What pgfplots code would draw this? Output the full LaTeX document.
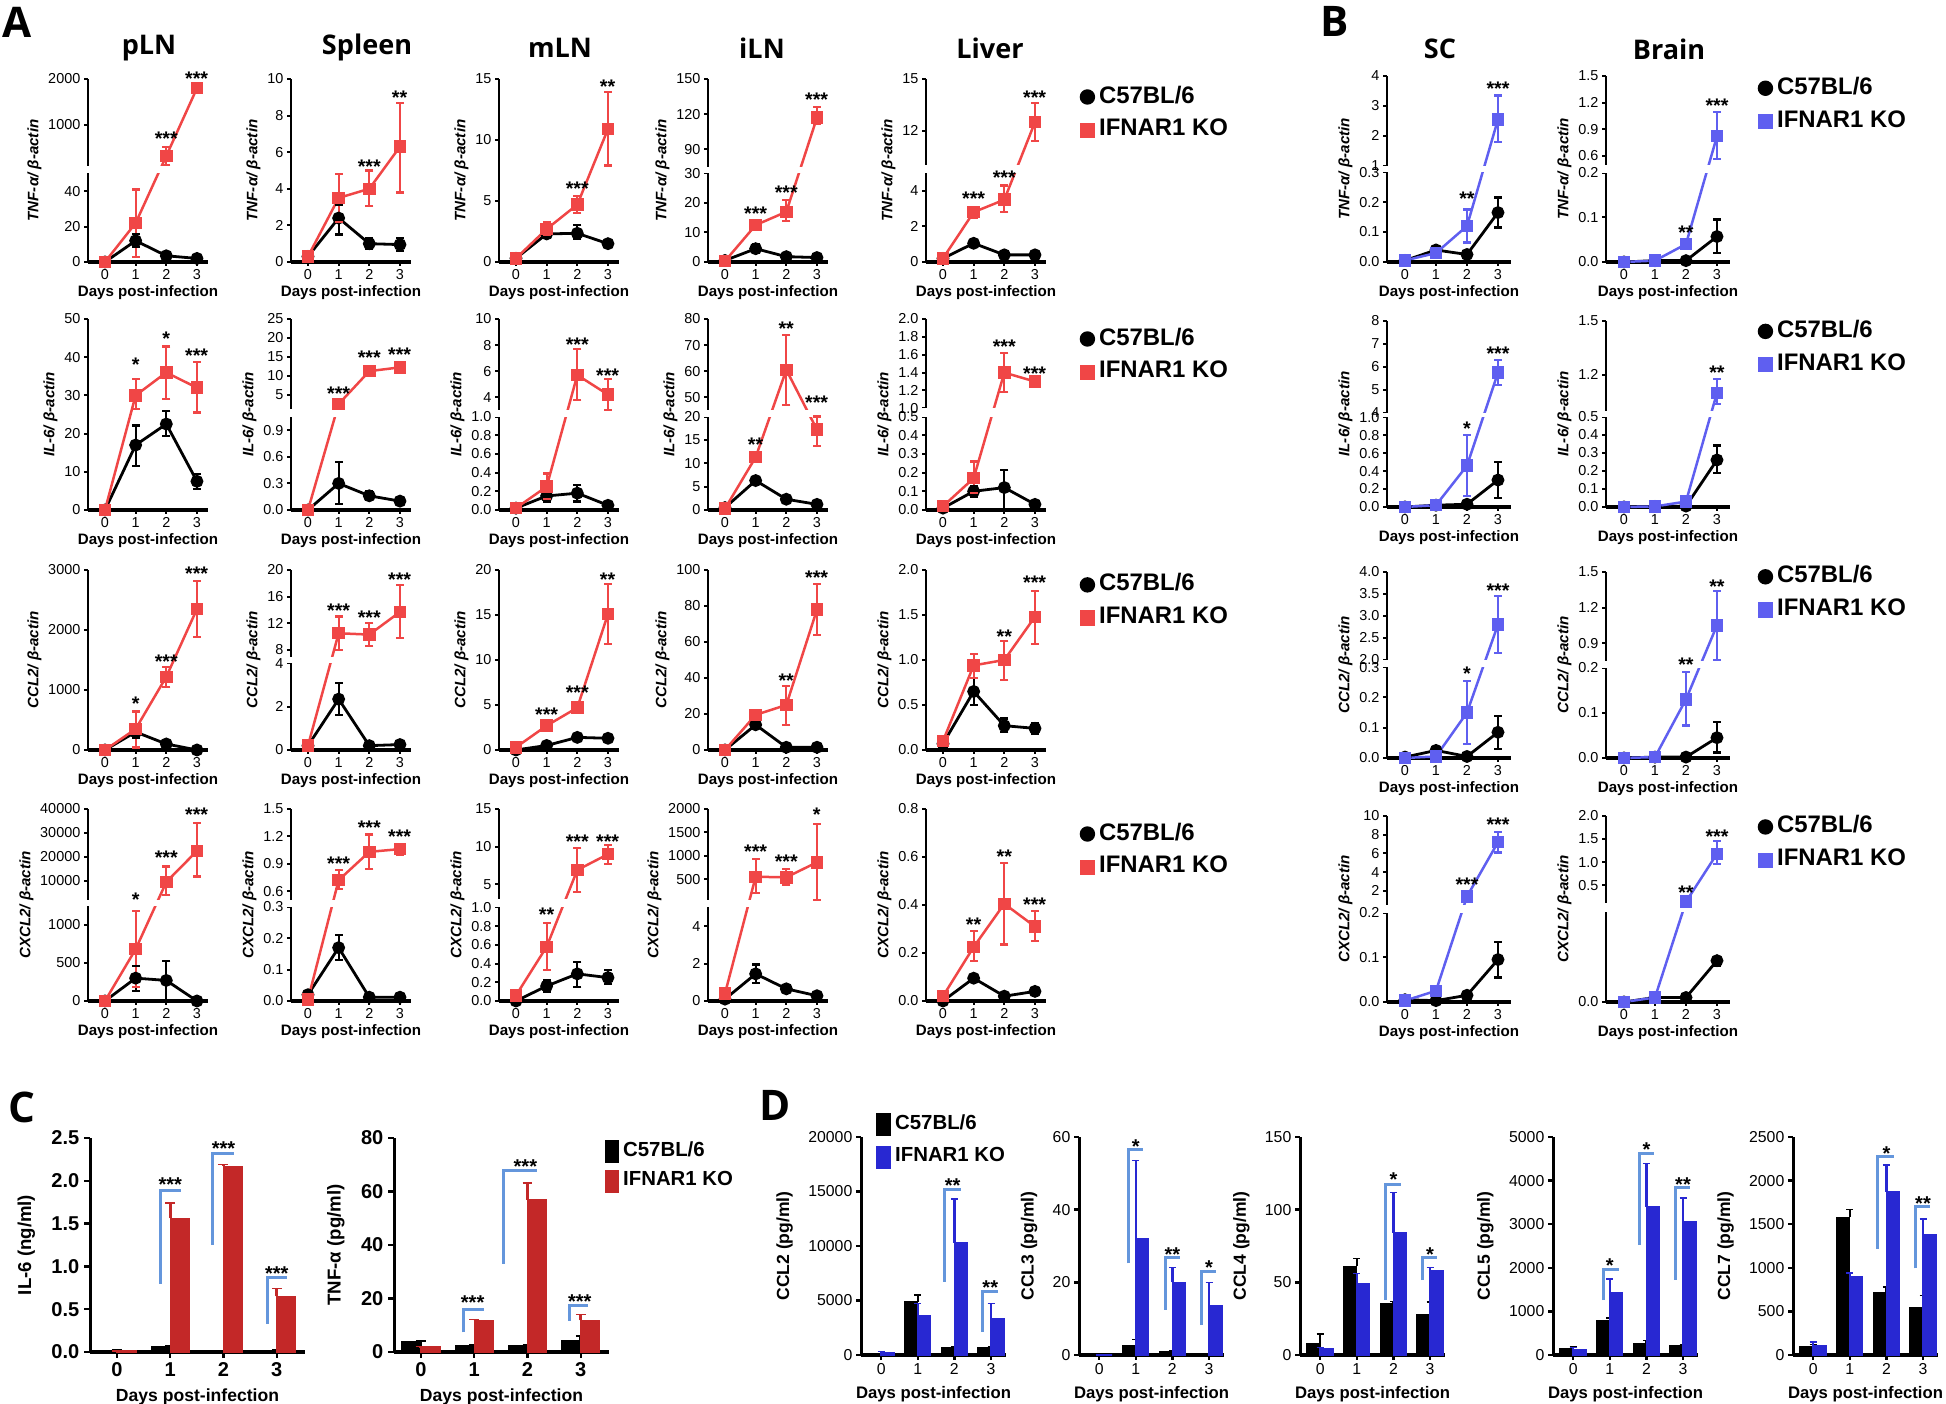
\documentclass[border=0pt]{standalone}
\usepackage{pgfplots}
\pgfplotsset{compat=1.18}
\usepackage{fontspec}
\setmainfont{Liberation Sans}
\newfontfamily\ttlfont{Open Sans}
\definecolor{redc}{RGB}{240,70,70}
\definecolor{bluec}{RGB}{95,95,240}
\definecolor{cred}{RGB}{195,40,40}
\definecolor{dblue}{RGB}{40,40,210}
\definecolor{brc}{RGB}{100,150,220}
\makeatletter
\newcommand\cvt[1]{\pgfutil@in@{Y}{#1}\ifpgfutil@in@\pgfmathfloattosci{#1}\edef\cvv{\pgfmathresult}\else\edef\cvv{#1}\fi}
\makeatother
\newcommand\ftick{\fontsize{4.1pt}{4.5pt}\selectfont}
\newcommand\fdays{\fontsize{4.3pt}{4.7pt}\selectfont\bfseries}
\newcommand\fylab{\fontsize{4.3pt}{4.7pt}\selectfont\bfseries\itshape}
\newcommand\fttl{\ttlfont\bfseries\fontsize{7.7pt}{8pt}\selectfont}
\newcommand\flet{\ttlfont\bfseries\fontsize{12pt}{12pt}\selectfont}
\newcommand\fleg{\fontsize{6.8pt}{7pt}\selectfont\bfseries}
\newcommand\fstar{\fontsize{5.6pt}{5.6pt}\selectfont\bfseries}
\newcommand\fCtick{\fontsize{5.7pt}{6pt}\selectfont\bfseries}
\newcommand\fCdays{\fontsize{5pt}{5.4pt}\selectfont\bfseries}
\newcommand\fCylab{\fontsize{5.3pt}{5.6pt}\selectfont\bfseries}
\newcommand\fDtick{\fontsize{4.5pt}{4.8pt}\selectfont}
\newcommand\fDdays{\fontsize{4.75pt}{5pt}\selectfont\bfseries}
\newcommand\fDylab{\fontsize{5pt}{5.3pt}\selectfont\bfseries}
\newcommand\fCleg{\fontsize{5.8pt}{6pt}\selectfont\bfseries}
\pgfplotsset{
 lpbase/.style={scale only axis, anchor=south west, ymin=0, clip=false,
   axis x line*=bottom, axis y line*=left,
   xtick={0,1,2,3}, xticklabels={0,1,2,3},
   tick align=outside, major tick length=0.4mm,
   x axis line style={line width=0.35mm,-}, y axis line style={line width=0.2mm,-},
   every tick/.style={black, line width=0.2mm},
   tick label style={font=\ftick, inner sep=0.3mm},
   scaled y ticks=false,
   xlabel={Days post-infection}, xlabel style={font=\fdays, inner sep=0.2mm},
   ylabel style={font=\fylab, inner sep=0.3mm}},
 lp/.style={lpbase, width=12mm, xmin=-0.554, xmax=3.36},
 lpb/.style={lpbase, width=12.4mm, xmin=-0.58, xmax=3.42},
 brk/.style n args={5}{
   y coord trafo/.code={\cvt{##1}\edef\pgfmathresult{\fpeval{(\cvv<=#1)?(\cvv*#2/#1):((\cvv<=#3)?(#2+(\cvv-#1)*(#4-#2)/(#3-#1)):(#4+(\cvv-#3)*(1-#4)/(#5-#3)))}}},
   ymin=0, ymax=#5,
   /utils/exec={\def\brka{#2}\def\brkb{#4}}},
 blk/.style={black, line width=0.28mm, mark=*, mark size=0.5mm, mark options={solid}, forget plot},
 rdl/.style={redc, line width=0.25mm, mark=square*, mark size=0.5mm, mark options={solid, fill=redc}, forget plot},
 bll/.style={bluec, line width=0.25mm, mark=square*, mark size=0.5mm, mark options={solid, fill=bluec}, forget plot},
 legA/.style={legend style={at={#1}, anchor=north west, draw=none, fill=none, font=\fleg, inner sep=0pt, row sep=0.3mm, nodes={inner sep=0.4mm}}, legend cell align=left},
 bb/.style={scale only axis, anchor=south west, ymin=0, clip=false, axis x line*=bottom, axis y line*=left,
   xtick={0,1,2,3}, xticklabels={0,1,2,3}, tick align=outside, scaled y ticks=false,
   x axis line style={line width=0.35mm,-}, y axis line style={line width=0.3mm,-},
   every tick/.style={black, line width=0.25mm}, xlabel={Days post-infection}},
 bc/.style={bb, width=21.5mm, height=21.4mm, xmin=-0.506, xmax=3.53, major tick length=0.6mm,
   tick label style={font=\fCtick, inner sep=0.4mm}, xlabel style={font=\fCdays, yshift=0.5mm}, ylabel style={font=\fCylab}},
 bd/.style={bb, width=14.5mm, height=21.8mm, xmin=-0.55, xmax=3.41, major tick length=0.5mm,
   tick label style={font=\fDtick, inner sep=0.3mm}, xlabel style={font=\fDdays, yshift=0.4mm}, ylabel style={font=\fDylab}},
 kC/.style={forget plot, ybar, bar width=1.9mm, bar shift=-0.95mm, fill=black, draw=black, error bars/.cd, y dir=plus, y explicit, error bar style={black, line width=0.3mm, mark size=0.5mm}},
 rC/.style={forget plot, ybar, bar width=1.9mm, bar shift=0.95mm, fill=cred, draw=cred, error bars/.cd, y dir=plus, y explicit, error bar style={cred, line width=0.3mm, mark size=0.5mm}},
 kD/.style={forget plot, ybar, bar width=1.3mm, bar shift=-0.65mm, fill=black, draw=black, error bars/.cd, y dir=plus, y explicit, error bar style={black, line width=0.25mm, mark size=0.35mm}},
 bD/.style={forget plot, ybar, bar width=1.3mm, bar shift=0.65mm, fill=dblue, draw=dblue, error bars/.cd, y dir=plus, y explicit, error bar style={dblue, line width=0.25mm, mark size=0.35mm}},
 brl/.style={brc, line width=0.3mm, forget plot},
}
\newcommand\eb[4]{\addplot[#1, line width=0.22mm, mark=-, mark size=0.4mm, mark options={solid}, forget plot] coordinates {(#2,#3) (#2,#4)};}
\newcommand\band{\fill[white] (rel axis cs:-0.04,\brka) rectangle (rel axis cs:1.06,\brkb);}
\newcommand\st[3]{\node[font=\fstar, inner sep=0pt, yshift=-1.2pt] at (rel axis cs:#1,#2) {#3};}
\newcommand\cs[3]{\node[font=\fCtick, inner sep=0pt, yshift=-1.2pt] at (axis cs:#1,#2) {#3};}
\newcommand\legR{\addlegendimage{legend image code/.code={\fill[black] (0.7mm,0mm) circle (0.7mm);}}\addlegendentry{C57BL/6}\addlegendimage{legend image code/.code={\fill[redc] (0mm,-0.7mm) rectangle (1.4mm,0.7mm);}}\addlegendentry{IFNAR1 KO}}
\newcommand\legB{\addlegendimage{legend image code/.code={\fill[black] (0.7mm,0mm) circle (0.7mm);}}\addlegendentry{C57BL/6}\addlegendimage{legend image code/.code={\fill[bluec] (0mm,-0.7mm) rectangle (1.4mm,0.7mm);}}\addlegendentry{IFNAR1 KO}}
\begin{document}
\begin{tikzpicture}
\path[use as bounding box] (0,0) rectangle (194.6mm,140.4mm);
% ================= Panel A row 1: TNF
\begin{axis}[lp, at={(8.8mm,114.2mm)}, height=18.3mm, brk={50}{0.4836}{100}{0.522}{2000},
 ytick={0,20,40,1000,2000}, yticklabels={0,20,40,1000,2000}, ylabel={TNF-α/ β-actin}]
\eb{black}{1}{8.5}{16}
\addplot[blk] coordinates {(0,0)(1,12)(2,3.5)(3,2)};
\eb{redc}{1}{3}{41}\eb{redc}{2}{130}{530}\eb{redc}{3}{1760}{1850}
\addplot[rdl] coordinates {(0,0)(1,22)(2,330)(3,1800)};
\band
\st{0.652}{0.694}{***}\st{0.905}{1.022}{***}
\end{axis}
\begin{axis}[lp, at={(29.1mm,114.2mm)}, height=18.3mm, ymax=10,
 ytick={0,2,4,6,8,10}, yticklabels={0,2,4,6,8,10}, ylabel={TNF-α/ β-actin}]
\eb{black}{1}{1.5}{3.1}\eb{black}{2}{0.7}{1.3}\eb{black}{3}{0.6}{1.3}
\addplot[blk] coordinates {(0,0.3)(1,2.4)(2,1.0)(3,0.95)};
\eb{redc}{1}{2.2}{4.8}\eb{redc}{2}{3.05}{5.0}\eb{redc}{3}{3.8}{8.7}
\addplot[rdl] coordinates {(0,0.3)(1,3.5)(2,4.0)(3,6.3)};
\st{0.652}{0.545}{***}\st{0.905}{0.922}{**}
\end{axis}
\begin{axis}[lp, at={(49.9mm,114.2mm)}, height=18.3mm, ymax=15,
 ytick={0,5,10,15}, yticklabels={0,5,10,15}, ylabel={TNF-α/ β-actin}]
\eb{black}{1}{2.0}{2.8}\eb{black}{2}{1.9}{3.0}
\addplot[blk] coordinates {(0,0.3)(1,2.3)(2,2.35)(3,1.5)};
\eb{redc}{1}{2.2}{3.3}\eb{redc}{2}{4.0}{5.4}\eb{redc}{3}{7.9}{13.9}
\addplot[rdl] coordinates {(0,0.3)(1,2.7)(2,4.7)(3,10.9)};
\st{0.652}{0.421}{***}\st{0.905}{0.98}{**}
\end{axis}
\begin{axis}[lp, at={(70.8mm,114.2mm)}, height=18.3mm, brk={30}{0.4836}{75}{0.52}{150},
 ytick={0,10,20,30,90,120,150}, yticklabels={0,10,20,30,90,120,150}, ylabel={TNF-α/ β-actin}]
\eb{black}{1}{3}{6}
\addplot[blk] coordinates {(0,0.5)(1,4.5)(2,1.8)(3,1.5)};
\eb{redc}{1}{11.5}{13.5}\eb{redc}{2}{14}{21}\eb{redc}{3}{112}{126}
\addplot[rdl] coordinates {(0,0.3)(1,12.5)(2,17)(3,117)};
\band
\st{0.397}{0.288}{***}\st{0.652}{0.403}{***}\st{0.905}{0.909}{***}
\end{axis}
\begin{axis}[lp, at={(92.6mm,114.2mm)}, height=18.3mm, brk={5}{0.486}{10}{0.528}{15},
 ytick={0,2,4,12,15}, yticklabels={0,2,4,12,15}, ylabel={TNF-α/ β-actin}, legA={(1.275,0.989)}]
\addplot[blk] coordinates {(0,0.2)(1,1.05)(2,0.4)(3,0.4)};
\eb{redc}{1}{2.5}{3.07}\eb{redc}{2}{2.8}{4.3}\eb{redc}{3}{11.4}{13.6}
\addplot[rdl] coordinates {(0,0.2)(1,2.8)(2,3.5)(3,12.5)};
\band
\st{0.397}{0.366}{***}\st{0.652}{0.481}{***}\st{0.905}{0.922}{***}
\legR
\end{axis}
% ================= Panel A row 2: IL-6
\begin{axis}[lp, at={(8.8mm,89.4mm)}, height=19.1mm, ymax=50,
 ytick={0,10,20,30,40,50}, yticklabels={0,10,20,30,40,50}, ylabel={IL-6/ β-actin}]
\eb{black}{1}{11.5}{22.1}\eb{black}{2}{19.4}{25.9}\eb{black}{3}{5.5}{9.5}
\addplot[blk] coordinates {(0,0)(1,17)(2,22.5)(3,7.5)};
\eb{redc}{1}{26.4}{34.3}\eb{redc}{2}{29}{42.8}\eb{redc}{3}{25.5}{38.7}
\addplot[rdl] coordinates {(0,0)(1,30)(2,36)(3,32)};
\st{0.397}{0.785}{*}\st{0.652}{0.92}{*}\st{0.905}{0.829}{***}
\end{axis}
\begin{axis}[lp, at={(29.1mm,89.4mm)}, height=19.1mm, brk={1.05}{0.487}{1.1}{0.527}{25},
 ytick={0,0.3,0.6,0.9,5,10,15,20,25}, yticklabels={0.0,0.3,0.6,0.9,5,10,15,20,25}, ylabel={IL-6/ β-actin}]
\eb{black}{1}{0.07}{0.54}\eb{black}{2}{0.11}{0.21}
\addplot[blk] coordinates {(0,0)(1,0.3)(2,0.16)(3,0.1)};
\eb{redc}{2}{10}{12.3}\eb{redc}{3}{11}{13.5}
\addplot[rdl] coordinates {(0,0)(1,2.5)(2,11.2)(3,12.2)};
\band
\st{0.397}{0.632}{***}\st{0.652}{0.82}{***}\st{0.905}{0.834}{***}
\end{axis}
\begin{axis}[lp, at={(49.9mm,89.4mm)}, height=19.1mm, brk={1.0}{0.489}{3}{0.522}{10},
 ytick={0,0.2,0.4,0.6,0.8,1.0,4,6,8,10}, yticklabels={0.0,0.2,0.4,0.6,0.8,1.0,4,6,8,10}, ylabel={IL-6/ β-actin}]
\eb{black}{1}{0.09}{0.2}\eb{black}{2}{0.09}{0.27}
\addplot[blk] coordinates {(0,0.02)(1,0.15)(2,0.18)(3,0.05)};
\eb{redc}{1}{0.12}{0.39}\eb{redc}{2}{3.8}{7.7}\eb{redc}{3}{3.0}{5.4}
\addplot[rdl] coordinates {(0,0.02)(1,0.25)(2,5.7)(3,4.2)};
\band
\st{0.652}{0.887}{***}\st{0.905}{0.724}{***}
\end{axis}
\begin{axis}[lp, at={(70.8mm,89.4mm)}, height=19.1mm, brk={20}{0.489}{45}{0.522}{80},
 ytick={0,5,10,15,20,50,60,70,80}, yticklabels={0,5,10,15,20,50,60,70,80}, ylabel={IL-6/ β-actin}]
\eb{black}{1}{5.7}{7}
\addplot[blk] coordinates {(0,0.5)(1,6.3)(2,2.3)(3,1.2)};
\eb{redc}{1}{10.5}{12.2}\eb{redc}{2}{47}{74}\eb{redc}{3}{13.7}{20}
\addplot[rdl] coordinates {(0,0.3)(1,11.3)(2,60.5)(3,17.2)};
\band
\st{0.397}{0.366}{**}\st{0.652}{0.969}{**}\st{0.905}{0.585}{***}
\end{axis}
\begin{axis}[lp, at={(92.6mm,89.4mm)}, height=19.1mm, brk={0.5}{0.489}{1.0}{0.532}{2.0},
 ytick={0,0.1,0.2,0.3,0.4,0.5,1.0,1.2,1.4,1.6,1.8,2.0}, yticklabels={0.0,0.1,0.2,0.3,0.4,0.5,1.0,1.2,1.4,1.6,1.8,2.0}, ylabel={IL-6/ β-actin}, legA={(1.275,0.979)}]
\eb{black}{1}{0.07}{0.13}\eb{black}{2}{0.005}{0.215}
\addplot[blk] coordinates {(0,0.01)(1,0.1)(2,0.12)(3,0.03)};
\eb{redc}{1}{0.09}{0.26}\eb{redc}{2}{1.18}{1.62}\eb{redc}{3}{1.25}{1.35}
\addplot[rdl] coordinates {(0,0.02)(1,0.17)(2,1.4)(3,1.3)};
\band
\st{0.652}{0.876}{***}\st{0.905}{0.733}{***}
\legR
\end{axis}
% ================= Panel A row 3: CCL2
\begin{axis}[lp, at={(8.8mm,65.4mm)}, height=18.0mm, ymax=3000,
 ytick={0,1000,2000,3000}, yticklabels={0,1000,2000,3000}, ylabel={CCL2/ β-actin}]
\eb{black}{1}{200}{400}\eb{black}{2}{50}{150}
\addplot[blk] coordinates {(0,0)(1,300)(2,100)(3,0)};
\eb{redc}{1}{40}{642}\eb{redc}{2}{1050}{1380}\eb{redc}{3}{1880}{2820}
\addplot[rdl] coordinates {(0,0)(1,350)(2,1220)(3,2350)};
\st{0.397}{0.279}{*}\st{0.652}{0.516}{***}\st{0.905}{1.0}{***}
\end{axis}
\begin{axis}[lp, at={(29.1mm,65.4mm)}, height=18.0mm, brk={4}{0.481}{7}{0.519}{20},
 ytick={0,2,4,8,12,16,20}, yticklabels={0,2,4,8,12,16,20}, ylabel={CCL2/ β-actin}]
\eb{black}{1}{1.6}{3.1}
\addplot[blk] coordinates {(0,0.2)(1,2.35)(2,0.2)(3,0.25)};
\eb{redc}{1}{8}{13}\eb{redc}{2}{8.6}{12}\eb{redc}{3}{9.8}{17.8}
\addplot[rdl] coordinates {(0,0.2)(1,10.5)(2,10.3)(3,13.7)};
\band
\st{0.397}{0.796}{***}\st{0.652}{0.759}{***}\st{0.905}{0.967}{***}
\end{axis}
\begin{axis}[lp, at={(49.9mm,65.4mm)}, height=18.0mm, ymax=20,
 ytick={0,5,10,15,20}, yticklabels={0,5,10,15,20}, ylabel={CCL2/ β-actin}]
\addplot[blk] coordinates {(0,0)(1,0.5)(2,1.4)(3,1.3)};
\eb{redc}{3}{11.8}{18.4}
\addplot[rdl] coordinates {(0,0.3)(1,2.7)(2,4.7)(3,15.1)};
\st{0.397}{0.222}{***}\st{0.652}{0.343}{***}\st{0.905}{0.972}{**}
\end{axis}
\begin{axis}[lp, at={(70.8mm,65.4mm)}, height=18.0mm, ymax=100,
 ytick={0,20,40,60,80,100}, yticklabels={0,20,40,60,80,100}, ylabel={CCL2/ β-actin}]
\eb{black}{1}{12}{16}
\addplot[blk] coordinates {(0,0)(1,14)(2,1.5)(3,1.5)};
\eb{redc}{1}{17}{22}\eb{redc}{2}{14}{35.5}\eb{redc}{3}{64}{92}
\addplot[rdl] coordinates {(0,0)(1,19.5)(2,25)(3,78)};
\st{0.652}{0.408}{**}\st{0.905}{0.978}{***}
\end{axis}
\begin{axis}[lp, at={(92.6mm,65.4mm)}, height=18.0mm, ymax=2,
 ytick={0,0.5,1,1.5,2}, yticklabels={0.0,0.5,1.0,1.5,2.0}, ylabel={CCL2/ β-actin}, legA={(1.275,1.006)}]
\eb{black}{1}{0.5}{0.8}\eb{black}{2}{0.2}{0.35}\eb{black}{3}{0.18}{0.3}
\addplot[blk] coordinates {(0,0.07)(1,0.65)(2,0.27)(3,0.24)};
\eb{redc}{1}{0.8}{1.07}\eb{redc}{2}{0.78}{1.21}\eb{redc}{3}{1.18}{1.77}
\addplot[rdl] coordinates {(0,0.1)(1,0.94)(2,1.0)(3,1.48)};
\st{0.652}{0.652}{**}\st{0.905}{0.953}{***}
\legR
\end{axis}
% ================= Panel A row 4: CXCL2
\begin{axis}[lp, at={(8.8mm,40.3mm)}, height=19.2mm, brk={1250}{0.4957}{2000}{0.526}{40000},
 ytick={0,500,1000,10000,20000,30000,40000}, yticklabels={0,500,1000,10000,20000,30000,40000}, ylabel={CXCL2/ β-actin}]
\eb{black}{1}{130}{460}\eb{black}{2}{0}{530}
\addplot[blk] coordinates {(0,0)(1,300)(2,270)(3,0)};
\eb{redc}{1}{180}{1180}\eb{redc}{2}{4000}{16000}\eb{redc}{3}{11800}{34000}
\addplot[rdl] coordinates {(0,0)(1,680)(2,9500)(3,22500)};
\band
\st{0.397}{0.548}{*}\st{0.652}{0.769}{***}\st{0.905}{0.991}{***}
\end{axis}
\begin{axis}[lp, at={(29.1mm,40.3mm)}, height=19.2mm, brk={0.3}{0.49}{0.5}{0.525}{1.5},
 ytick={0,0.1,0.2,0.3,0.6,0.9,1.2,1.5}, yticklabels={0.0,0.1,0.2,0.3,0.6,0.9,1.2,1.5}, ylabel={CXCL2/ β-actin}]
\eb{black}{1}{0.13}{0.21}
\addplot[blk] coordinates {(0,0.02)(1,0.17)(2,0.012)(3,0.012)};
\eb{redc}{1}{0.62}{0.83}\eb{redc}{2}{0.84}{1.22}\eb{redc}{3}{1.0}{1.1}
\addplot[rdl] coordinates {(0,0.005)(1,0.72)(2,1.03)(3,1.06)};
\band
\st{0.397}{0.739}{***}\st{0.652}{0.922}{***}\st{0.905}{0.878}{***}
\end{axis}
\begin{axis}[lp, at={(49.9mm,40.3mm)}, height=19.2mm, brk={1.0}{0.487}{3}{0.529}{15},
 ytick={0,0.2,0.4,0.6,0.8,1.0,5,10,15}, yticklabels={0.0,0.2,0.4,0.6,0.8,1.0,5,10,15}, ylabel={CXCL2/ β-actin}]
\eb{black}{1}{0.1}{0.22}\eb{black}{2}{0.15}{0.42}\eb{black}{3}{0.18}{0.33}
\addplot[blk] coordinates {(0,0)(1,0.16)(2,0.29)(3,0.25)};
\eb{redc}{1}{0.33}{0.83}\eb{redc}{2}{4.0}{9.8}\eb{redc}{3}{7.7}{10.2}
\addplot[rdl] coordinates {(0,0.06)(1,0.58)(2,6.9)(3,9.0)};
\band
\st{0.397}{0.47}{**}\st{0.652}{0.852}{***}\st{0.905}{0.852}{***}
\end{axis}
\begin{axis}[lp, at={(70.8mm,40.3mm)}, height=19.2mm, brk={5}{0.487}{50}{0.525}{2000},
 ytick={0,2,4,500,1000,1500,2000}, yticklabels={0,2,4,500,1000,1500,2000}, ylabel={CXCL2/ β-actin}]
\eb{black}{1}{0.95}{1.95}
\addplot[blk] coordinates {(0,0.1)(1,1.45)(2,0.65)(3,0.28)};
\eb{redc}{1}{200}{930}\eb{redc}{2}{380}{720}\eb{redc}{3}{60}{1680}
\addplot[rdl] coordinates {(0,0.4)(1,550)(2,540)(3,860)};
\band
\st{0.397}{0.8}{***}\st{0.652}{0.748}{***}\st{0.905}{0.991}{*}
\end{axis}
\begin{axis}[lp, at={(92.6mm,40.3mm)}, height=19.2mm, ymax=0.8,
 ytick={0,0.2,0.4,0.6,0.8}, yticklabels={0.0,0.2,0.4,0.6,0.8}, ylabel={CXCL2/ β-actin}, legA={(1.275,0.953)}]
\addplot[blk] coordinates {(0,0)(1,0.095)(2,0.02)(3,0.04)};
\eb{redc}{1}{0.165}{0.29}\eb{redc}{2}{0.235}{0.575}\eb{redc}{3}{0.25}{0.375}
\addplot[rdl] coordinates {(0,0.02)(1,0.225)(2,0.405)(3,0.31)};
\st{0.397}{0.421}{**}\st{0.652}{0.774}{**}\st{0.905}{0.525}{***}
\legR
\end{axis}
% ================= Panel B
\begin{axis}[lpb, at={(138.7mm,114.2mm)}, height=18.6mm, brk={0.3}{0.483}{1}{0.517}{4},
 ytick={0,0.1,0.2,0.3,1,2,3,4}, yticklabels={0.0,0.1,0.2,0.3,1,2,3,4}, ylabel={TNF-α/ β-actin}]
\eb{black}{3}{0.115}{0.215}
\addplot[blk] coordinates {(0,0.005)(1,0.04)(2,0.025)(3,0.165)};
\eb{bluec}{2}{0.065}{0.175}\eb{bluec}{3}{1.8}{3.35}
\addplot[bll] coordinates {(0,0.005)(1,0.03)(2,0.12)(3,2.55)};
\band
\st{0.645}{0.365}{**}\st{0.895}{0.956}{***}
\end{axis}
\begin{axis}[lpb, at={(160.6mm,114.2mm)}, height=18.6mm, brk={0.2}{0.48}{0.5}{0.524}{1.5},
 ytick={0,0.1,0.2,0.6,0.9,1.2,1.5}, yticklabels={0.0,0.1,0.2,0.6,0.9,1.2,1.5}, ylabel={TNF-α/ β-actin}, legA={(1.218,1.02)}]
\eb{black}{3}{0.02}{0.095}
\addplot[blk] coordinates {(0,0)(1,0.003)(2,0.003)(3,0.057)};
\eb{bluec}{2}{0.03}{0.05}\eb{bluec}{3}{0.56}{1.09}
\addplot[bll] coordinates {(0,0)(1,0.003)(2,0.04)(3,0.82)};
\band
\st{0.645}{0.179}{**}\st{0.895}{0.861}{***}
\legB
\end{axis}
\begin{axis}[lpb, at={(138.7mm,89.7mm)}, height=18.6mm, brk={1.0}{0.483}{4}{0.507}{8},
 ytick={0,0.2,0.4,0.6,0.8,1.0,4,5,6,7,8}, yticklabels={0.0,0.2,0.4,0.6,0.8,1.0,4,5,6,7,8}, ylabel={IL-6/ β-actin}]
\eb{black}{3}{0.1}{0.5}
\addplot[blk] coordinates {(0,0)(1,0.02)(2,0.03)(3,0.3)};
\eb{bluec}{2}{0.12}{0.8}\eb{bluec}{3}{5.2}{6.3}
\addplot[bll] coordinates {(0,0)(1,0.02)(2,0.46)(3,5.75)};
\band
\st{0.645}{0.446}{*}\st{0.895}{0.849}{***}
\end{axis}
\begin{axis}[lpb, at={(160.6mm,89.7mm)}, height=18.6mm, brk={0.5}{0.486}{1.0}{0.517}{1.5},
 ytick={0,0.1,0.2,0.3,0.4,0.5,1.2,1.5}, yticklabels={0.0,0.1,0.2,0.3,0.4,0.5,1.2,1.5}, ylabel={IL-6/ β-actin}, legA={(1.218,1.03)}]
\eb{black}{3}{0.19}{0.34}
\addplot[blk] coordinates {(0,0)(1,0.003)(2,0.005)(3,0.26)};
\eb{bluec}{3}{1.04}{1.175}
\addplot[bll] coordinates {(0,0)(1,0.003)(2,0.03)(3,1.1)};
\band
\st{0.895}{0.747}{**}
\legB
\end{axis}
\begin{axis}[lpb, at={(138.7mm,64.6mm)}, height=18.6mm, brk={0.3}{0.488}{2.0}{0.529}{4.0},
 ytick={0,0.1,0.2,0.3,2.0,2.5,3.0,3.5,4.0}, yticklabels={0.0,0.1,0.2,0.3,2.0,2.5,3.0,3.5,4.0}, ylabel={CCL2/ β-actin}]
\eb{black}{3}{0.03}{0.14}
\addplot[blk] coordinates {(0,0.003)(1,0.025)(2,0.005)(3,0.085)};
\eb{bluec}{2}{0.045}{0.255}\eb{bluec}{3}{2.15}{3.45}
\addplot[bll] coordinates {(0,0)(1,0.005)(2,0.15)(3,2.8)};
\band
\st{0.645}{0.478}{*}\st{0.895}{0.923}{***}
\end{axis}
\begin{axis}[lpb, at={(160.6mm,64.6mm)}, height=18.6mm, brk={0.2}{0.485}{0.75}{0.522}{1.5},
 ytick={0,0.1,0.2,0.9,1.2,1.5}, yticklabels={0.0,0.1,0.2,0.9,1.2,1.5}, ylabel={CCL2/ β-actin}, legA={(1.218,1.06)}]
\eb{black}{3}{0.012}{0.08}
\addplot[blk] coordinates {(0,0)(1,0.002)(2,0.002)(3,0.045)};
\eb{bluec}{2}{0.072}{0.19}\eb{bluec}{3}{0.76}{1.34}
\addplot[bll] coordinates {(0,0)(1,0.002)(2,0.13)(3,1.05)};
\band
\st{0.645}{0.522}{**}\st{0.895}{0.946}{**}
\legB
\end{axis}
\begin{axis}[lpb, at={(138.7mm,40.2mm)}, height=18.6mm, brk={0.2}{0.48}{0.5}{0.522}{10},
 ytick={0,0.1,0.2,2,4,6,8,10}, yticklabels={0.0,0.1,0.2,2,4,6,8,10}, ylabel={CXCL2/ β-actin}]
\eb{black}{3}{0.055}{0.135}
\addplot[blk] coordinates {(0,0.005)(1,0.003)(2,0.015)(3,0.095)};
\eb{bluec}{3}{6.1}{8.3}
\addplot[bll] coordinates {(0,0.003)(1,0.025)(2,1.4)(3,7.2)};
\band
\st{0.645}{0.655}{***}\st{0.895}{0.977}{***}
\end{axis}
\begin{axis}[lpb, at={(160.6mm,40.2mm)}, height=18.6mm, brk={0.1}{0.483}{0.12}{0.534}{2.0},
 ytick={0,0.5,1.0,1.5,2.0}, yticklabels={0.0,0.5,1.0,1.5,2.0}, ylabel={CXCL2/ β-actin}, legA={(1.218,1.027)}]
\eb{black}{3}{0.04}{0.05}
\addplot[blk] coordinates {(0,0)(1,0.005)(2,0.005)(3,0.046)};
\eb{bluec}{3}{0.95}{1.45}
\addplot[bll] coordinates {(0,0)(1,0.005)(2,0.14)(3,1.18)};
\band
\st{0.645}{0.608}{**}\st{0.895}{0.912}{***}
\legB
\end{axis}
% ================= Panel C
\begin{axis}[bc, at={(9.0mm,5.2mm)}, ymax=2.5, ytick={0,0.5,1,1.5,2,2.5}, yticklabels={0.0,0.5,1.0,1.5,2.0,2.5}, ylabel={IL-6 (ng/ml)}]
\addplot[kC] coordinates {(0,0.02)+-(0,0.005) (1,0.06)+-(0,0.01) (2,0.01)+-(0,0.005) (3,0.02)+-(0,0.005)};
\addplot[rC] coordinates {(0,0.01)+-(0,0.003) (1,1.56)+-(0,0.18) (2,2.17)+-(0,0.02) (3,0.65)+-(0,0.09)};
\addplot[brl] coordinates {(0.82,0.8)(0.82,1.89)(1.2,1.89)};
\addplot[brl] coordinates {(1.79,1.25)(1.79,2.32)(2.2,2.32)};
\addplot[brl] coordinates {(2.82,0.33)(2.82,0.87)(3.2,0.87)};
\cs{1}{2.0}{***}\cs{2}{2.43}{***}\cs{3}{0.97}{***}
\end{axis}
\begin{axis}[bc, at={(39.4mm,5.2mm)}, ymax=80, ytick={0,20,40,60,80}, yticklabels={0,20,40,60,80}, ylabel={TNF-α (pg/ml)},
 legend style={at={(0.977,1.005)}, anchor=north west, draw=none, fill=none, font=\fCleg, inner sep=0pt, row sep=0.2mm, nodes={inner sep=0.4mm}}, legend cell align=left]
\addplot[kC] coordinates {(0,3.8)+-(0,0.3) (1,2.5)+-(0,0.3) (2,2.5)+-(0,0.3) (3,4.2)+-(0,1.8)};
\addplot[rC] coordinates {(0,1.8)+-(0,0.2) (1,11.8)+-(0,0.4) (2,57)+-(0,6.2) (3,11.8)+-(0,2.2)};
\addplot[brl] coordinates {(0.8,7.3)(0.8,16)(1.18,16)};
\addplot[brl] coordinates {(1.55,33)(1.55,67.7)(2.18,67.7)};
\addplot[brl] coordinates {(2.78,11.7)(2.78,17.3)(3.14,17.3)};
\cs{0.97}{20}{***}\cs{1.96}{70.8}{***}\cs{2.98}{20.5}{***}
\addlegendimage{legend image code/.code={\fill[black] (0mm,-1.1mm) rectangle (1.3mm,1.1mm);}}\addlegendentry{C57BL/6}
\addlegendimage{legend image code/.code={\fill[cred] (0mm,-1.1mm) rectangle (1.3mm,1.1mm);}}\addlegendentry{IFNAR1 KO}
\end{axis}
% ================= Panel D
\begin{axis}[bd, at={(86.1mm,4.9mm)}, ymax=20000, ytick={0,5000,10000,15000,20000}, yticklabels={0,5000,10000,15000,20000}, ylabel={CCL2 (pg/ml)},
 legend style={at={(0.097,1.124)}, anchor=north west, draw=none, fill=none, font=\fCleg, inner sep=0pt, row sep=0.5mm, nodes={inner sep=0.4mm}}, legend cell align=left]
\addplot[kD] coordinates {(0,100)+-(0,60) (1,4900)+-(0,600) (2,650)+-(0,80) (3,650)+-(0,80)};
\addplot[bD] coordinates {(0,250)+-(0,80) (1,3600)+-(0,1100) (2,10300)+-(0,4000) (3,3300)+-(0,1400)};
\addplot[brl] coordinates {(1.73,6700)(1.73,15200)(2.17,15200)};
\addplot[brl] coordinates {(2.78,2140)(2.78,5800)(3.19,5800)};
\cs{1.95}{15900}{**}\cs{2.98}{6560}{**}
\addlegendimage{legend image code/.code={\fill[black] (0mm,-1.1mm) rectangle (1.4mm,1.1mm);}}\addlegendentry{C57BL/6}
\addlegendimage{legend image code/.code={\fill[dblue] (0mm,-1.1mm) rectangle (1.4mm,1.1mm);}}\addlegendentry{IFNAR1 KO}
\end{axis}
\begin{axis}[bd, at={(107.9mm,4.9mm)}, ymax=60, ytick={0,20,40,60}, yticklabels={0,20,40,60}, ylabel={CCL3 (pg/ml)}]
\addplot[kD] coordinates {(0,0)+-(0,0) (1,2.5)+-(0,1.8) (2,0.8)+-(0,0.3) (3,0.3)+-(0,0.1)};
\addplot[bD] coordinates {(0,0)+-(0,0) (1,32)+-(0,21.5) (2,20)+-(0,4) (3,13.5)+-(0,6.5)};
\addplot[brl] coordinates {(0.8,25.2)(0.8,56.6)(1.2,56.6)};
\addplot[brl] coordinates {(1.8,12.4)(1.8,26.8)(2.2,26.8)};
\addplot[brl] coordinates {(2.8,8.2)(2.8,22.9)(3.2,22.9)};
\cs{1}{58.6}{*}\cs{2}{28.8}{**}\cs{3}{25.2}{*}
\end{axis}
\begin{axis}[bd, at={(130.0mm,4.9mm)}, ymax=150, ytick={0,50,100,150}, yticklabels={0,50,100,150}, ylabel={CCL4 (pg/ml)}]
\addplot[kD] coordinates {(0,8)+-(0,6.5) (1,61)+-(0,5.5) (2,35)+-(0,2) (3,28)+-(0,8.5)};
\addplot[bD] coordinates {(0,4)+-(0,1) (1,49)+-(0,7) (2,84)+-(0,28) (3,58)+-(0,2)};
\addplot[brl] coordinates {(1.78,37.8)(1.78,117)(2.2,117)};
\addplot[brl] coordinates {(2.8,51.5)(2.8,66.9)(3.2,66.9)};
\cs{2}{123.6}{*}\cs{3}{71.7}{*}
\end{axis}
\begin{axis}[bd, at={(155.3mm,4.9mm)}, ymax=5000, ytick={0,1000,2000,3000,4000,5000}, yticklabels={0,1000,2000,3000,4000,5000}, ylabel={CCL5 (pg/ml)}]
\addplot[kD] coordinates {(0,150)+-(0,50) (1,780)+-(0,70) (2,250)+-(0,80) (3,210)+-(0,30)};
\addplot[bD] coordinates {(0,130)+-(0,40) (1,1430)+-(0,310) (2,3400)+-(0,990) (3,3050)+-(0,550)};
\addplot[brl] coordinates {(0.84,1260)(0.84,1970)(1.25,1970)};
\addplot[brl] coordinates {(1.8,2520)(1.8,4630)(2.2,4630)};
\addplot[brl] coordinates {(2.8,1720)(2.8,3840)(3.2,3840)};
\cs{1}{2140}{*}\cs{2}{4810}{*}\cs{3}{4010}{**}
\end{axis}
\begin{axis}[bd, at={(179.3mm,4.9mm)}, ymax=2500, ytick={0,500,1000,1500,2000,2500}, yticklabels={0,500,1000,1500,2000,2500}, ylabel={CCL7 (pg/ml)}]
\addplot[kD] coordinates {(0,100)+-(0,20) (1,1580)+-(0,90) (2,710)+-(0,70) (3,540)+-(0,140)};
\addplot[bD] coordinates {(0,110)+-(0,40) (1,900)+-(0,40) (2,1870)+-(0,310) (3,1380)+-(0,180)};
\addplot[brl] coordinates {(1.75,1221)(1.75,2279)(2.2,2279)};
\addplot[brl] coordinates {(2.8,992)(2.8,1698)(3.2,1698)};
\cs{2}{2359}{*}\cs{3}{1782}{**}
\end{axis}
% ================= titles and panel letters
\node[font=\fttl] at (14.9mm,135.6mm) {pLN};
\node[font=\fttl] at (36.7mm,135.6mm) {Spleen};
\node[font=\fttl] at (56.0mm,135.6mm) {mLN};
\node[font=\fttl] at (76.2mm,135.6mm) {iLN};
\node[font=\fttl] at (99.0mm,135.6mm) {Liver};
\node[font=\fttl] at (144.0mm,135.5mm) {SC};
\node[font=\fttl] at (166.9mm,135.5mm) {Brain};
\node[font=\flet] at (1.7mm,138.2mm) {A};
\node[font=\flet] at (133.5mm,138.3mm) {B};
\node[font=\flet] at (2.2mm,29.7mm) {C};
\node[font=\flet] at (77.5mm,29.9mm) {D};
\end{tikzpicture}
\end{document}
